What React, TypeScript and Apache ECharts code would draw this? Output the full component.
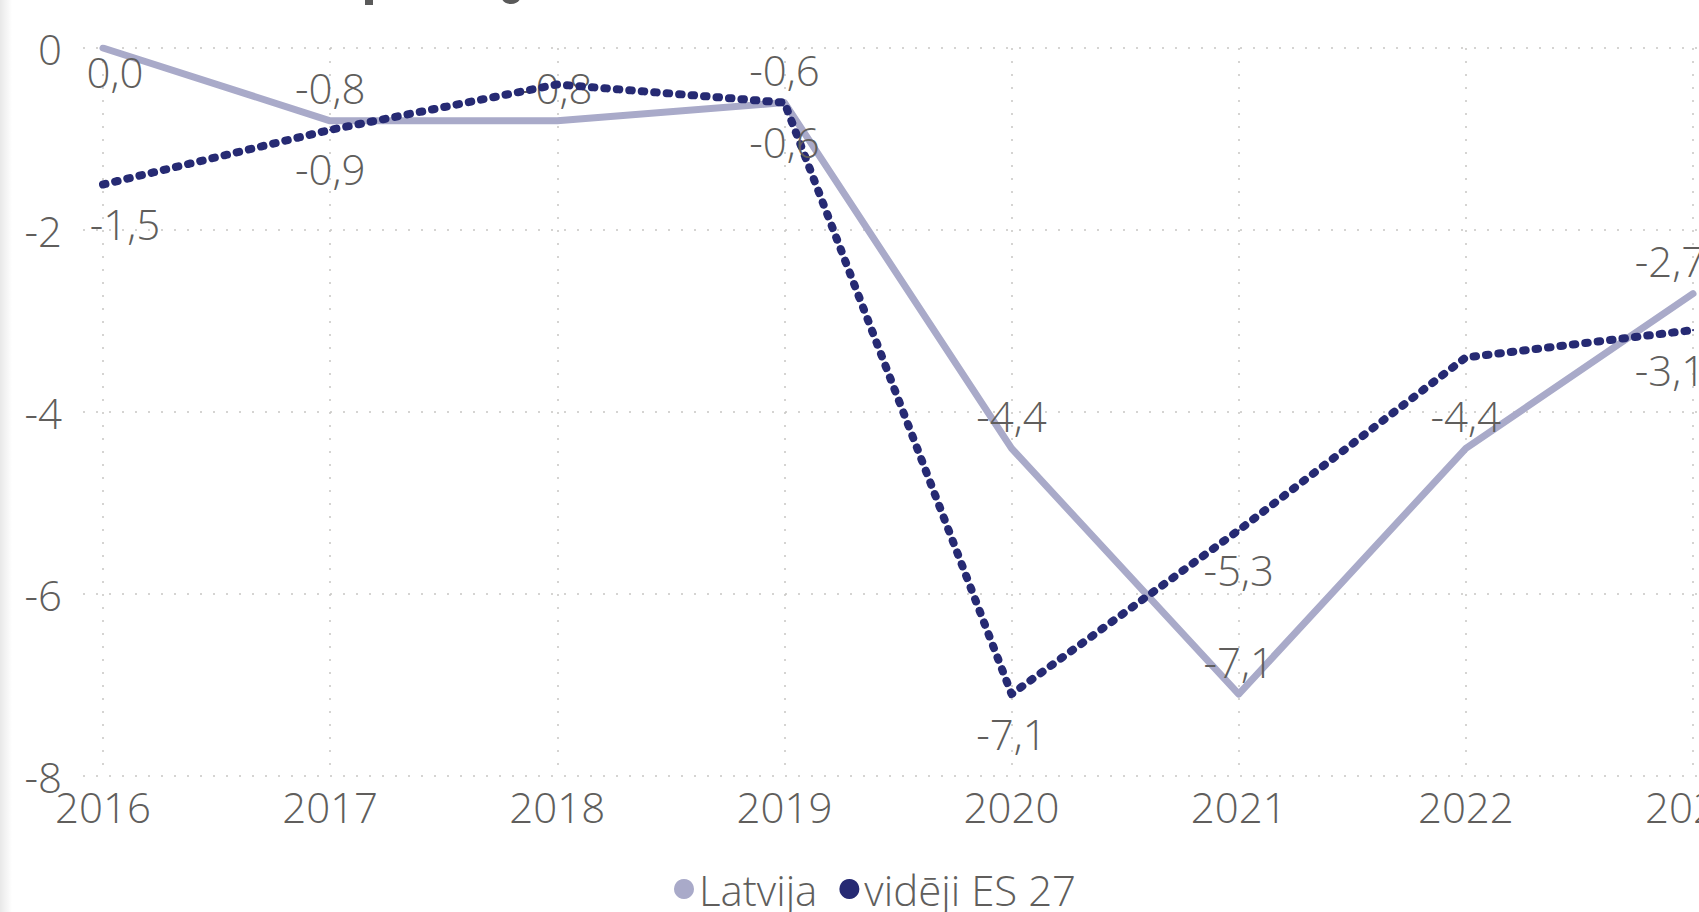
import React, { useEffect, useRef } from "react";
import * as echarts from "echarts";

const years = ["2016", "2017", "2018", "2019", "2020", "2021", "2022", "2023"];
const latvija = [0.0, -0.8, -0.8, -0.6, -4.4, -7.1, -4.4, -2.7];
const eu27 = [-1.5, -0.9, -0.4, -0.6, -7.1, -5.3, -3.4, -3.1];
const yTicks = { min: -8, max: 0, interval: 2 };
const seriesNames = ["Latvija", "vidēji ES 27"];

// label placement per point: [position, offsetX, show]
const latLabelPos: [string, number, boolean][] = [
  ["bottom", 12, true],
  ["top", 0, true],
  ["top", 0, true],
  ["top", 0, true],
  ["top", 0, true],
  ["top", 0, true],
  ["top", 0, true],
  ["top", -23, true],
];
const euLabelPos: [string, number, boolean][] = [
  ["bottom", 22, true],
  ["bottom", 0, true],
  ["bottom", 0, false],
  ["bottom", 0, true],
  ["bottom", 0, true],
  ["bottom", 0, true],
  ["bottom", 0, false],
  ["bottom", -23, true],
];

const FONT = "'Segoe UI', 'Open Sans', sans-serif";
const WEIGHT = 300;
const FS = 42;
const TEXT = "#605e5c";
const C_LAT = "#a9aac9";
const C_EU = "#262a73";

const fmt = (v: number) => v.toFixed(1).replace(".", ",");

export default function App() {
  const ref = useRef<HTMLDivElement>(null);
  useEffect(() => {
    if (!ref.current) return;
    const chart = echarts.init(ref.current, undefined, { renderer: "svg" });
    const labelBase = {
      fontSize: FS,
      fontFamily: FONT,
      fontWeight: WEIGHT,
      color: TEXT,
      formatter: (p: any) => fmt(p.value),
    };
    const mk = (vals: number[], pos: [string, number, boolean][]) =>
      vals.map((v, i) => ({
        value: v,
        label: {
          show: pos[i][2],
          position: pos[i][0],
          distance: pos[i][0] === "top" ? 11 : i === 0 && pos === latLabelPos ? 1 : 17,
          offset: [pos[i][1], 0],
        },
      }));
    chart.setOption({
      animation: false,
      backgroundColor: "#ffffff",
      grid: [
        { left: 103, right: 6, top: 48, bottom: 136, outerBoundsMode: "none", containLabel: false },
        { left: 83, right: 0, top: 48, bottom: 136, outerBoundsMode: "none", containLabel: false },
      ],
      xAxis: [
        {
          type: "category",
          gridIndex: 0,
          data: years,
          boundaryGap: false,
          axisLine: { show: false },
          axisTick: { show: false },
          axisLabel: { fontSize: FS, fontFamily: FONT, fontWeight: WEIGHT, color: TEXT, margin: 9 },
          splitLine: {
            show: true,
            lineStyle: { color: "#c8c6c4", width: 1.5, type: [2, 11] },
          },
        },
        { type: "value", gridIndex: 1, show: false, min: 0, max: 1 },
      ],
      yAxis: [
        {
          type: "value",
          gridIndex: 0,
          ...yTicks,
          axisLabel: { show: false },
          axisLine: { show: false },
          axisTick: { show: false },
          splitLine: { show: false },
        },
        {
          type: "value",
          gridIndex: 1,
          ...yTicks,
          axisLine: { show: false },
          axisTick: { show: false },
          axisLabel: {
            fontSize: FS,
            fontFamily: FONT,
            fontWeight: WEIGHT,
            color: TEXT,
            margin: 21,
            padding: [0, 0, 5, 0],
          },
          splitLine: {
            show: true,
            lineStyle: { color: "#c8c6c4", width: 1.5, type: [2, 11] },
          },
        },
      ],
      legend: {
        left: 669,
        top: 863,
        icon: "circle",
        itemWidth: 20,
        itemHeight: 20,
        itemGap: 22,
        data: seriesNames,
        textStyle: { fontSize: FS, fontFamily: FONT, fontWeight: WEIGHT, color: TEXT, padding: [0, 0, 0, 0] },
      },
      series: [
        {
          name: seriesNames[0],
          type: "line",
          xAxisIndex: 0,
          yAxisIndex: 0,
          data: mk(latvija, latLabelPos),
          symbol: "circle",
          symbolSize: 2,
          itemStyle: { color: C_LAT },
          lineStyle: { color: C_LAT, width: 7, cap: "round", join: "round" },
          label: labelBase,
          z: 2,
        },
        {
          name: seriesNames[1],
          type: "line",
          xAxisIndex: 0,
          yAxisIndex: 0,
          data: mk(eu27, euLabelPos),
          symbol: "circle",
          symbolSize: 2,
          itemStyle: { color: C_EU },
          lineStyle: { color: C_EU, width: 8, type: [2.5, 10], cap: "round", join: "round" },
          label: labelBase,
          z: 3,
        },
      ],
      graphic: [
        {
          type: "rect",
          shape: { x: 0, y: 0, width: 12, height: 912 },
          style: {
            fill: new echarts.graphic.LinearGradient(0, 0, 1, 0, [
              { offset: 0, color: "rgba(0,0,0,0.09)" },
              { offset: 1, color: "rgba(0,0,0,0)" },
            ]),
          },
          silent: true,
        },
        {
          type: "rect",
          shape: { x: 365, y: -2, width: 8, height: 7 },
          style: { fill: "#5a5a5a" },
          silent: true,
        },
        {
          type: "ellipse",
          shape: { cx: 511, cy: -2, rx: 9, ry: 6 },
          style: { fill: "#5a5a5a" },
          silent: true,
        },
      ],
    });
    return () => chart.dispose();
  }, []);
  return (
    <div
      ref={ref}
      style={{ position: "absolute", left: 0, top: 0, width: 1699, height: 912 }}
    />
  );
}
